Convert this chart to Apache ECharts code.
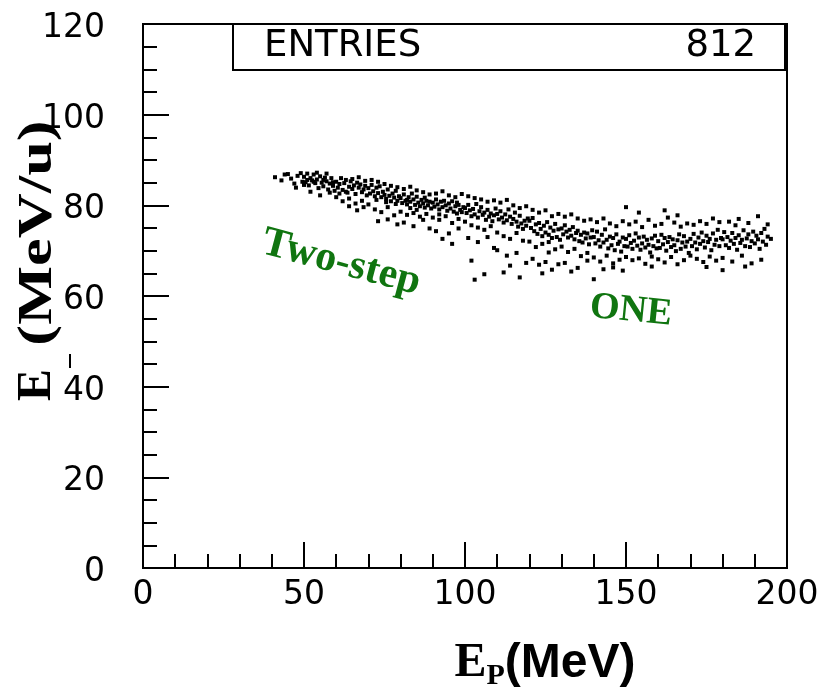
<!DOCTYPE html>
<html>
<head>
<meta charset="utf-8">
<script src="https://cdn.jsdelivr.net/npm/echarts@6/dist/echarts.min.js"></script>
<style>
    html, body { margin: 0; padding: 0; background: #fff; }
    #chart { width: 825px; height: 690px; }
</style>
</head>
<body>
<div id="chart"></div>
<script>
// E_P (MeV) vs E (MeV/u)
let xTicks = [0, 50, 100, 150, 200];
let yTicks = [0, 20, 40, 60, 80, 100, 120];
let entries = 812;

let band1 = [ // 40 - 70 MeV
    [41,86.2],[43,85.5],[44,86.8],[46,85.9],[47,84.8],[48,86.5],[49,87.1],[49.5,85.2],[47.5,83.9],[45,86.9],
    [50,86.3],[50.5,85.1],[51,87.0],[51.5,84.4],[52,86.0],[52.5,85.5],[53,86.8],[53.5,84.9],[54,85.7],[54.5,83.8],
    [55,86.4],[55.5,85.0],[56,84.2],[56.5,86.1],[57,85.3],[57.5,83.5],[58,84.8],[58.5,86.0],[59,85.1],[59.5,83.2],
    [52,83.0],[55,82.2],[58,82.8],[51,85.6],[53,85.2],[56,85.6],[57,87.0],[54,87.2],[59,84.3],[50,84.5],
    [60,85.2],[60.5,83.9],[61,84.7],[61.5,86.0],[62,83.4],[62.5,84.9],[63,85.6],[63.5,82.8],[64,84.1],[64.5,85.3],
    [65,83.6],[65.5,84.4],[66,82.5],[66.5,85.0],[67,83.9],[67.5,84.6],[68,82.9],[68.5,83.5],[69,84.3],[69.5,82.2],
    [60,81.8],[62,80.9],[64,81.5],[66,80.4],[68,81.0],[61,82.6],[63,83.0],[65,85.8],[67,86.2],[69,85.4],
    [64,79.8],[66.5,78.9],[68.5,79.6]
];
let band2 = [ // 70 - 100 MeV
    [70,83.8],[70.5,82.6],[71,84.5],[71.5,83.1],[72,82.0],[72.5,83.9],[73,82.7],[73.5,84.2],[74,81.8],[74.5,83.0],
    [75,82.3],[75.5,81.4],[76,83.5],[76.5,82.1],[77,80.9],[77.5,82.6],[78,81.7],[78.5,83.2],[79,81.0],[79.5,82.0],
    [70,80.2],[72,79.1],[74,78.5],[76,79.6],[78,77.8],[71,85.6],[73,85.2],[75,84.7],[77,84.3],[79,84.0],
    [73,76.5],[76,76.9],[79,75.8],[72.5,81.2],[75.5,80.7],[78.5,80.3],
    [80,81.6],[80.5,80.5],[81,82.4],[81.5,81.0],[82,80.2],[82.5,81.8],[83,80.8],[83.5,82.6],[84,81.3],[84.5,80.1],
    [85,81.9],[85.5,80.6],[86,79.8],[86.5,81.2],[87,80.4],[87.5,79.5],[88,81.0],[88.5,80.0],[89,80.8],[89.5,79.3],
    [80,78.6],[82,77.9],[84,78.3],[86,77.5],[88,78.1],[81,83.6],[83,84.1],[85,83.3],[87,82.9],[89,82.4],
    [81,76.2],[84,75.4],[87,76.8],[89,74.9],[83,79.4],[85,79.0],[87.5,81.7],[82,81.2],
    [90,80.6],[90.5,79.7],[91,81.3],[91.5,80.2],[92,79.1],[92.5,80.8],[93,79.6],[93.5,81.0],[94,80.0],[94.5,78.8],
    [95,80.4],[95.5,79.3],[96,80.9],[96.5,78.6],[97,79.8],[97.5,78.2],[98,80.1],[98.5,79.0],[99,78.5],[99.5,79.6],
    [90,77.3],[92,76.8],[94,77.6],[96,76.1],[98,77.0],[91,82.6],[93,83.1],[95,82.2],[97,81.8],[99,82.5],
    [91,74.3],[95,73.8],[98,74.9],[93,72.6],[96,71.5],[92,78.0],[97.5,80.6]
];
let band3 = [ // 100 - 140 MeV
    [100,79.4],[100.5,78.3],[101,80.1],[101.5,78.9],[102,77.6],[102.5,79.2],[103,78.0],[103.5,80.3],[104,77.3],[104.5,78.7],
    [105,79.6],[105.5,77.9],[106,78.4],[106.5,76.8],[107,79.0],[107.5,77.5],[108,78.2],[108.5,76.5],[109,77.8],[109.5,79.3],
    [100,76.4],[102,75.6],[104,75.1],[106,74.6],[108,75.4],[101,82.0],[103,81.6],[105,81.3],[107,80.8],[109,81.1],
    [101,72.8],[104,71.9],[107,73.0],[109,70.6],[103,63.6],[106,64.8],[102,67.8],
    [110,78.1],[110.5,76.9],[111,78.7],[111.5,77.3],[112,76.2],[112.5,78.0],[113,76.7],[113.5,79.1],[114,77.5],[114.5,75.9],
    [115,77.0],[115.5,78.4],[116,76.4],[116.5,75.3],[117,77.7],[117.5,76.0],[118,74.8],[118.5,76.6],[119,75.5],[119.5,77.1],
    [110,74.0],[112,73.2],[114,72.6],[116,73.9],[118,72.2],[111,80.6],[113,81.2],[115,80.0],[117,79.4],[119,79.8],
    [110,70.1],[113,68.9],[116,69.5],[119,67.3],[112,65.2],[117,64.1],[114,66.7],
    [120,76.6],[120.5,75.0],[121,77.2],[121.5,74.3],[122,75.8],[122.5,73.7],[123,76.1],[123.5,74.8],[124,73.2],[124.5,75.5],
    [125,74.0],[125.5,76.3],[126,73.5],[126.5,75.1],[127,72.8],[127.5,74.4],[128,75.9],[128.5,73.0],[129,74.7],[129.5,72.4],
    [120,72.0],[122,70.8],[124,71.5],[126,69.6],[128,70.3],[121,79.0],[123,78.4],[125,78.9],[127,77.6],[129,78.1],
    [121,68.2],[123,66.9],[125,67.5],[127,65.8],[129,67.0],[124,65.0],[126,71.9],
    [130,74.9],[130.5,73.6],[131,75.6],[131.5,74.2],[132,72.9],[132.5,74.6],[133,73.3],[133.5,75.2],[134,72.5],[134.5,73.9],
    [135,74.4],[135.5,72.1],[136,73.5],[136.5,71.8],[137,74.0],[137.5,72.7],[138,73.8],[138.5,71.4],[139,72.9],[139.5,74.5],
    [130,70.9],[132,69.7],[134,70.4],[136,68.8],[138,69.5],[131,77.5],[133,78.0],[135,77.1],[137,76.6],[139,76.9],
    [131,67.3],[135,66.2],[138,67.8],[133,65.4],[140,63.7]
];
let band4 = [ // 140 - 196 MeV
    [140,73.0],[140.5,71.6],[141,74.2],[141.5,72.3],[142,70.9],[142.5,73.5],[143,71.8],[143.5,74.7],[144,72.4],[144.5,70.5],
    [145,73.1],[145.5,71.2],[146,72.8],[146.5,70.1],[147,73.6],[147.5,71.5],[148,72.0],[148.5,69.8],[149,72.9],[149.5,71.0],
    [140,68.5],[142,67.6],[144,68.9],[146,67.2],[148,68.0],[141,76.3],[143,77.1],[145,76.0],[147,75.4],[149,76.5],
    [143,65.9],[146,66.3],[149,65.6],[150,79.6],
    [150,72.6],[150.5,70.9],[151,73.4],[151.5,71.7],[152,70.4],[152.5,72.2],[153,73.8],[153.5,71.1],[154,72.9],[154.5,70.2],
    [155,71.6],[155.5,73.1],[156,70.7],[156.5,72.4],[157,71.3],[157.5,69.6],[158,72.7],[158.5,71.0],[159,73.3],[159.5,70.5],
    [150,68.6],[152,67.9],[154,68.3],[156,67.1],[158,68.7],[151,75.8],[153,76.4],[155,75.2],[157,76.8],[159,75.5],
    [154,78.4],[158,66.5],
    [160,72.1],[160.5,70.6],[161,73.5],[161.5,71.4],[162,72.8],[162.5,70.0],[163,71.9],[163.5,73.0],[164,70.8],[164.5,72.5],
    [165,71.2],[165.5,69.9],[166,72.3],[166.5,73.6],[167,70.4],[167.5,71.8],[168,73.2],[168.5,70.9],[169,72.0],[169.5,69.5],
    [160,68.1],[162,67.4],[164,68.6],[166,67.0],[168,67.9],[161,75.9],[163,77.3],[165,76.2],[167,75.3],[169,76.0],
    [162,78.9],[166,77.8],
    [170,72.6],[170.5,71.0],[171,73.7],[171.5,71.8],[172,70.3],[172.5,72.9],[173,71.5],[173.5,74.0],[174,72.1],[174.5,70.7],
    [175,73.3],[175.5,71.9],[176,72.6],[176.5,70.1],[177,73.8],[177.5,71.3],[178,72.4],[178.5,74.6],[179,71.0],[179.5,72.8],
    [170,68.9],[172,68.2],[174,67.5],[176,68.7],[178,67.8],[171,75.7],[173,76.5],[175,75.9],[177,77.1],[179,76.3],
    [180,65.7],[175,66.4],
    [180,72.5],[180.5,74.1],[181,71.2],[181.5,73.0],[182,70.6],[182.5,72.2],[183,73.9],[183.5,71.5],[184,72.8],[184.5,70.2],
    [185,73.4],[185.5,71.7],[186,72.4],[186.5,74.5],[187,71.0],[187.5,72.7],[188,73.6],[188.5,70.8],[189,72.1],[189.5,74.2],
    [190,71.6],[190.5,73.3],[191,72.5],[191.5,70.4],[192,73.9],[192.5,72.0],[193,74.8],[193.5,71.3],[194,73.1],[195,72.6],
    [180,68.4],[183,67.6],[186,68.9],[189,67.2],[192,68.0],[182,76.4],[185,77.0],[188,76.1],[191,77.6],[194,75.8],
    [187,66.5],[184,75.6]
];

let points = band1.concat(band2, band3, band4);
let green = '#107510';
let labelFont = 'DejaVu Sans';

let chart = echarts.init(document.getElementById('chart'));
let option = {
    backgroundColor: '#fff',
    animation: false,
    grid: {
        left: 143,
        right: 38,
        top: 24,
        bottom: 122,
        show: true,
        borderColor: '#000',
        borderWidth: 2
    },
    xAxis: {
        type: 'value',
        min: xTicks[0],
        max: xTicks[xTicks.length - 1],
        interval: 50,
        axisLine: {lineStyle: {color: '#000', width: 2}},
        axisTick: {inside: true, length: 26, lineStyle: {color: '#000', width: 2}},
        minorTick: {show: true, splitNumber: 5, length: 14, lineStyle: {color: '#000', width: 2}},
        splitLine: {show: false},
        axisLabel: {color: '#000', fontFamily: labelFont, fontSize: 33, margin: 11}
    },
    yAxis: {
        type: 'value',
        min: yTicks[0],
        max: yTicks[yTicks.length - 1],
        interval: 20,
        axisLine: {lineStyle: {color: '#000', width: 2}},
        axisTick: {inside: true, length: 26, lineStyle: {color: '#000', width: 2}},
        minorTick: {show: true, splitNumber: 4, length: 14, lineStyle: {color: '#000', width: 2}},
        splitLine: {show: false},
        axisLabel: {
            margin: 38,
            formatter: (v) => '{a|' + v + '}',
            rich: {
                a: {color: '#000', fontFamily: labelFont, fontSize: 33, padding: [9, 0, 0, 0]}
            }
        }
    },
    series: [
        {
            type: 'scatter',
            data: points,
            symbol: 'rect',
            symbolSize: 4,
            itemStyle: {color: '#000', opacity: 1},
            silent: true
        }
    ],
    graphic: [
        {
            type: 'rect',
            shape: {x: 233, y: 24, width: 552, height: 46},
            style: {fill: '#fff', stroke: '#000', lineWidth: 2}
        },
        {
            type: 'text',
            left: 264,
            top: 28,
            style: {text: 'ENTRIES', font: '37px "DejaVu Sans"', fill: '#000'}
        },
        {
            type: 'text',
            right: 825 - 756,
            top: 28,
            style: {text: String(entries), font: '37px "DejaVu Sans"', fill: '#000'}
        },
        {
            type: 'text',
            x: 341,
            y: 263,
            rotation: -0.26,
            style: {
                text: 'Two-step',
                font: 'bold 42px "Liberation Serif"',
                fill: green,
                align: 'center',
                verticalAlign: 'middle'
            }
        },
        {
            type: 'text',
            x: 631,
            y: 311,
            rotation: -0.1,
            style: {
                text: 'ONE',
                font: 'bold 38px "Liberation Serif"',
                fill: green,
                align: 'center',
                verticalAlign: 'middle'
            }
        },
        // y axis title: E, a small subscript dash, then (MeV/u)
        {
            type: 'text',
            x: 38,
            y: 385,
            rotation: Math.PI / 2,
            style: {
                text: 'E',
                font: 'bold 48px "Liberation Serif"',
                fill: '#000',
                align: 'center',
                verticalAlign: 'middle'
            }
        },
        {
            type: 'rect',
            shape: {x: 69, y: 354, width: 2, height: 14},
            style: {fill: '#000'}
        },
        {
            type: 'text',
            x: 39,
            y: 233,
            rotation: Math.PI / 2,
            scaleX: 1.3,
            style: {
                text: '(MeV/u)',
                font: 'bold 48px "Liberation Serif"',
                fill: '#000',
                align: 'center',
                verticalAlign: 'middle'
            }
        },
        {
            type: 'text',
            x: 545,
            y: 664,
            style: {
                text: '{e|E}{p|P}{t|(MeV)}',
                align: 'center',
                verticalAlign: 'middle',
                rich: {
                    e: {font: 'bold 48px "Liberation Serif"', fill: '#000'},
                    p: {font: 'bold 30px "Liberation Serif"', fill: '#000', padding: [24, 0, 0, 0]},
                    t: {font: 'bold 48px "Liberation Sans Narrow", "Liberation Sans"', fill: '#000'}
                }
            }
        }
    ]
};
chart.setOption(option);
</script>
</body>
</html>
